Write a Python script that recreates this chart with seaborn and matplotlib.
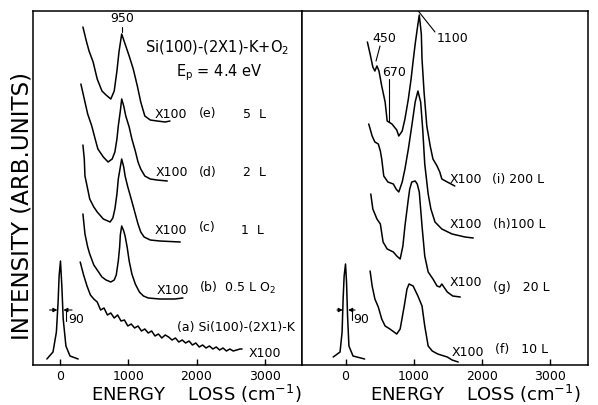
import numpy as np
import pandas as pd
import matplotlib
matplotlib.use("Agg")
import matplotlib.pyplot as plt
import seaborn as sns

sns.set_theme(style="ticks")
plt.rcParams['font.family'] = ['DejaVu Sans']
plt.rcParams['mathtext.fontset'] = 'dejavusans'
plt.rcParams['text.color'] = 'black'
plt.rcParams['axes.labelcolor'] = 'black'
plt.rcParams['xtick.color'] = 'black'

# ---------------- data (energy loss in cm^-1, intensity in arb. units) -------------
# left panel: Si(100)-(2x1)-K + O2
elastic_L_x = [-200, -110, -60, -35, -20, 0, 20, 40, 80, 140, 260]
elastic_L_y = [6, 13, 33, 63, 89, 104, 79, 46, 19, 9, 6]

a_x = [290, 340, 390, 440, 490, 540, 590, 640, 690, 740, 790, 840, 890, 940, 990,
       1040, 1090, 1140, 1190, 1240, 1290, 1340, 1390, 1440, 1490, 1540, 1590, 1640,
       1690, 1740, 1790, 1840, 1890, 1940, 1990, 2040, 2090, 2140, 2190, 2240, 2290,
       2340, 2390, 2440, 2490, 2540, 2590, 2640, 2670]
a_y = [103, 90, 79, 70, 66, 63, 55, 57, 50, 52, 47, 50, 44, 45, 39,
       41, 37, 39, 34, 36, 32, 34, 29, 31, 27, 30, 28, 25,
       27, 23, 25, 22, 24, 20, 22, 18, 20, 17, 19, 16, 18,
       15, 17, 14, 16, 14, 15, 16, 16]

b_x = [330, 360, 400, 430, 490, 540, 610, 670, 740, 790, 820, 850, 870, 880, 900,
       930, 950, 980, 1010, 1050, 1100, 1160, 1220, 1290, 1460, 1680, 1800]
b_y = [151, 131, 118, 111, 100, 95, 88, 85, 83, 85, 90, 104, 118, 130, 139,
       134, 129, 118, 104, 91, 81, 73, 69, 67, 66, 66, 67]

c_x = [330, 350, 360, 400, 430, 490, 540, 630, 730, 770, 800, 830, 850, 880, 900,
       930, 950, 990, 1040, 1100, 1140, 1180, 1230, 1320, 1460, 1760]
c_y = [220, 206, 189, 176, 166, 158, 153, 146, 143, 147, 156, 171, 186, 198, 206,
       198, 189, 178, 166, 151, 141, 133, 128, 125, 124, 123]

d_x = [300, 360, 400, 460, 510, 550, 630, 700, 760, 800, 830, 850, 880, 900, 930,
       960, 1010, 1050, 1100, 1140, 1180, 1240, 1320, 1420, 1570]
d_y = [281, 263, 251, 239, 226, 216, 208, 203, 206, 213, 226, 239, 254, 266, 259,
       249, 238, 226, 214, 203, 196, 189, 186, 185, 184]

e_x = [330, 380, 420, 480, 540, 610, 670, 740, 790, 830, 860, 900, 950, 1010, 1070,
       1130, 1180, 1240, 1320, 1420, 1540, 1610]
e_y = [338, 324, 314, 303, 286, 274, 270, 266, 274, 294, 313, 331, 321, 309, 296,
       279, 263, 249, 245, 244, 243, 244]

# right panel: higher exposures
elastic_R_x = [-180, -80, -50, -35, -20, 0, 15, 30, 50, 110, 280]
elastic_R_y = [8, 13, 33, 66, 89, 101, 83, 49, 19, 9, 6]

f_x = [360, 390, 430, 480, 530, 580, 650, 750, 800, 860, 900, 930, 990, 1060, 1120,
       1160, 1210, 1270, 1350, 1490, 1560, 1650]
f_y = [94, 79, 66, 58, 46, 39, 36, 31, 36, 59, 76, 81, 79, 69, 59,
       39, 19, 14, 11, 8, 5, 3]

g_x = [370, 400, 460, 510, 550, 610, 700, 750, 800, 840, 870, 920, 940, 970, 1020,
       1050, 1080, 1120, 1160, 1210, 1280, 1340, 1380, 1410, 1490, 1570, 1680]
g_y = [171, 156, 146, 141, 123, 116, 113, 109, 106, 119, 139, 166, 176, 183, 184,
       181, 173, 139, 109, 93, 86, 79, 78, 81, 73, 69, 68]

h_x = [340, 390, 430, 480, 510, 530, 560, 620, 700, 740, 780, 830, 870, 920, 970,
       1020, 1060, 1100, 1130, 1160, 1210, 1250, 1310, 1410, 1560, 1750, 1870]
h_y = [241, 229, 223, 221, 214, 206, 189, 183, 181, 176, 173, 183, 196, 216, 239,
       263, 274, 263, 236, 201, 171, 156, 143, 136, 131, 128, 127]

i_x = [320, 360, 400, 430, 460, 490, 530, 580, 610, 680, 750, 780, 830, 870, 920,
       960, 990, 1020, 1050, 1080, 1110, 1120, 1150, 1190, 1240, 1280, 1340, 1380,
       1410, 1490, 1600]
i_y = [323, 311, 298, 294, 299, 294, 279, 263, 244, 241, 235, 229, 234, 246, 266,
       286, 304, 321, 336, 350, 331, 306, 273, 239, 219, 206, 199, 193,
       186, 183, 179]

xticks = [0, 1000, 2000, 3000]
xtick_labels = ["0", "1000", "2000", "3000"]

left_curves = [(elastic_L_x, elastic_L_y), (a_x, a_y), (b_x, b_y), (c_x, c_y),
               (d_x, d_y), (e_x, e_y)]
right_curves = [(elastic_R_x, elastic_R_y), (f_x, f_y), (g_x, g_y), (h_x, h_y),
                (i_x, i_y)]

# ---------------- figure ----------------
W, H = 598, 406
fig = plt.figure(figsize=(W / 100, H / 100), dpi=100)
ax1 = fig.add_axes([33 / W, 40 / H, 269 / W, 354 / H])
ax2 = fig.add_axes([302 / W, 40 / H, 286 / W, 354 / H])


def draw(ax, xs, ys):
    df = pd.DataFrame({"x": xs, "y": ys})
    sns.lineplot(data=df, x="x", y="y", ax=ax, color="black", lw=1.1,
                 sort=False, estimator=None)


for xs, ys in left_curves:
    draw(ax1, xs, ys)
for xs, ys in right_curves:
    draw(ax2, xs, ys)

ax1.set_xlim(-404, 3551)
ax2.set_xlim(-637, 3550)
for ax in (ax1, ax2):
    ax.set_ylim(0, 354)
    ax.set_xticks(xticks)
    ax.set_xticklabels(xtick_labels)
    ax.set_yticks([])
    ax.set_xlabel("")
    ax.set_ylabel("")
    ax.tick_params(axis="x", direction="in", length=4, width=1.0, pad=3,
                   labelsize=9, colors="black", labelcolor="black")
    for s in ax.spines.values():
        s.set_visible(True)
        s.set_linewidth(1.1)
        s.set_color("black")
    ax.set_facecolor("white")

fs = 9
kw = dict(fontsize=fs, color="black", va="center", ha="left")

# left panel annotations
ax1.text(2300, 318, "Si(100)-(2X1)-K+O$_2$", fontsize=10.5, ha="center", va="center",
         color="black")
ax1.text(2340, 293, "E$_{\\rm p}$ = 4.4 eV", fontsize=10.5, ha="center", va="center",
         color="black")
ax1.text(900, 347, "950", fontsize=fs, ha="center", va="center", color="black")
ax1.plot([900, 900], [333, 338], color="black", lw=0.8)

ax1.text(1390, 252, "X100", **kw)
ax1.text(2030, 252, "(e)", **kw)
ax1.text(2680, 252, "5  L", **kw)
ax1.text(1400, 193, "X100", **kw)
ax1.text(2030, 193, "(d)", **kw)
ax1.text(2680, 193, "2  L", **kw)
ax1.text(1390, 135, "X100", **kw)
ax1.text(2040, 138, "(c)", **kw)
ax1.text(2660, 135, "1  L", **kw)
ax1.text(1420, 76, "X100", **kw)
ax1.text(2040, 78, "(b)  0.5 L O$_2$", **kw)
ax1.text(1710, 38, "(a) Si(100)-(2X1)-K", **kw)
ax1.text(2770, 12, "X100", **kw)

# FWHM markers
arrow = dict(arrowstyle="-|>", lw=0.8, color="black", mutation_scale=6,
             shrinkA=0, shrinkB=0)
ax1.annotate("", xy=(-45, 55), xytext=(-160, 55), arrowprops=arrow)
ax1.annotate("", xy=(42, 55), xytext=(170, 55), arrowprops=arrow)
ax1.plot([82, 82], [55, 44], color="black", lw=0.8)
ax1.text(110, 46, "90", **kw)

ax2.annotate("", xy=(-40, 55), xytext=(-125, 55), arrowprops=arrow)
ax2.annotate("", xy=(38, 55), xytext=(140, 55), arrowprops=arrow)
ax2.plot([90, 90], [55, 45], color="black", lw=0.8)
ax2.text(115, 46, "90", **kw)

# right panel annotations
ax2.plot([1065, 1310], [354, 333], color="black", lw=0.8)
ax2.text(1330, 327, "1100", **kw)
ax2.plot([505, 447], [319, 304], color="black", lw=0.8)
ax2.text(400, 328, "450", **kw)
ax2.plot([637, 637], [286, 243], color="black", lw=0.8)
ax2.text(530, 294, "670", **kw)

ax2.text(1530, 186, "X100", **kw)
ax2.text(2140, 186, "(i) 200 L", **kw)
ax2.text(1530, 141, "X100", **kw)
ax2.text(2160, 141, "(h)100 L", **kw)
ax2.text(1530, 84, "X100", **kw)
ax2.text(2160, 79, "(g)   20 L", **kw)
ax2.text(1560, 13, "X100", **kw)
ax2.text(2190, 16, "(f)   10 L", **kw)

# axis labels
fig.text(22 / W, 1 - 206 / H, "INTENSITY (ARB.UNITS)", rotation=90,
         ha="center", va="center", fontsize=16.5, color="black")
fig.text(196 / W, 1 - 401 / H, "ENERGY    LOSS (cm$^{-1}$)",
         ha="center", va="baseline", fontsize=13, color="black")
fig.text(475 / W, 1 - 401 / H, "ENERGY    LOSS (cm$^{-1}$)",
         ha="center", va="baseline", fontsize=13, color="black")

fig.savefig("out.png", dpi=100, facecolor="white")
